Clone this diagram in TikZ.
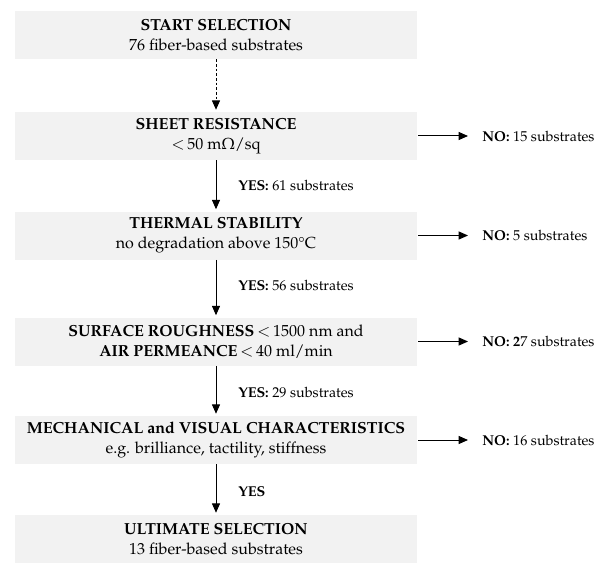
\documentclass[tikz,border=0pt]{standalone}
\usepackage[T1]{fontenc}
\usepackage{mathpazo}
\usepackage{textcomp}
\usetikzlibrary{arrows.meta}
\definecolor{boxgray}{RGB}{242,242,242}
\tikzset{
  stagebox/.style={fill=boxgray, minimum width=301.5pt, minimum height=36pt,
    align=center, inner sep=0pt, font=\fontsize{12}{15}\selectfont},
  flow/.style={-{Triangle[length=7pt,width=6pt]}, line width=0.75pt},
  dashflow/.style={flow, dash pattern=on 2pt off 1.5pt},
  lbl/.style={font=\fontsize{10.7}{13}\selectfont, inner sep=0pt, anchor=west},
}
\begin{document}
\begin{tikzpicture}[x=0.75pt,y=-0.75pt]
\useasboundingbox (0,0) rectangle (595,563);
% stage boxes
\node[stagebox] (s1) at (216,35) {\textbf{START SELECTION}\\76 fiber-based substrates};
\node[stagebox] (s2) at (216,136) {\textbf{SHEET RESISTANCE}\\$<$\,50 m$\Omega$/sq};
\node[stagebox] (s3) at (216,235.5) {\textbf{THERMAL STABILITY}\\no degradation above 150\textdegree C};
\node[stagebox] (s4) at (216,341.5) {\textbf{SURFACE ROUGHNESS}\,$<$\,1500 nm and\\\textbf{AIR PERMEANCE}\,$<$\,40 ml/min};
\node[stagebox] (s5) at (216,440) {\textbf{MECHANICAL and VISUAL CHARACTERISTICS}\\e.g. brilliance, tactility, stiffness};
\node[stagebox] (s6) at (216,539) {\textbf{ULTIMATE SELECTION}\\13 fiber-based substrates};
% rejection labels
\node[lbl] (n2) at (482,136) {\textbf{NO:} 15 substrates};
\node[lbl] (n3) at (482,235.5) {\textbf{NO:} 5 substrates};
\node[lbl] (n4) at (482,341.5) {\textbf{NO: 2}7 substrates};
\node[lbl] (n5) at (482,440) {\textbf{NO:} 16 substrates};
% yes labels
\node[lbl] (y2) at (238,185) {\textbf{YES:} 61 substrates};
\node[lbl] (y3) at (238,285) {\textbf{YES:} 56 substrates};
\node[lbl] (y4) at (238,392) {\textbf{YES:} 29 substrates};
\node[lbl] (y5) at (238,492) {\textbf{YES}};
% vertical connectors
\draw[dashflow, shorten >=1.5pt] (s1.south) -- (s2.north);
\draw[flow, shorten >=1.5pt] (s2.south) -- (s3.north);
\draw[flow, shorten >=1.5pt] (s3.south) -- (s4.north);
\draw[flow, shorten >=1.5pt] (s4.south) -- (s5.north);
\draw[flow, shorten >=1.5pt] (s5.south) -- (s6.north);
% horizontal connectors
\draw[flow, shorten <=0.75pt, shorten >=10.5pt] (s2.east) -- (n2.west);
\draw[flow, shorten <=0.75pt, shorten >=10.5pt] (s3.east) -- (n3.west);
\draw[flow, shorten <=0.75pt, shorten >=10.5pt] (s4.east) -- (n4.west);
\draw[flow, shorten <=0.75pt, shorten >=10.5pt] (s5.east) -- (n5.west);
\end{tikzpicture}
\end{document}
